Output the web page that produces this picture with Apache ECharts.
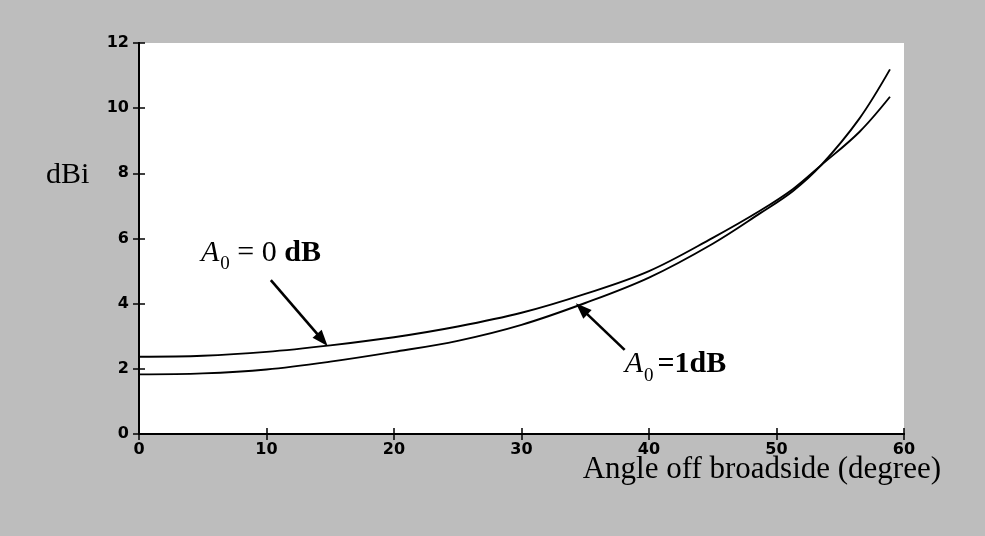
<!DOCTYPE html>
<html><head><meta charset="utf-8">
<script src="https://cdn.jsdelivr.net/npm/echarts@6/dist/echarts.min.js"></script>
<style>html,body{margin:0;padding:0;background:#bdbdbd}#c{width:985px;height:536px}</style>
</head><body><div id="c"></div>
<script>
// Angle off broadside (degree)
const angles      = [0, 5, 10, 15, 20, 25, 30, 35, 40, 45, 48.7, 51.3, 53.5, 56.5, 58.9];
// Gain (dBi) for A0 = 0 dB
const gainA0_0dB  = [2.37, 2.40, 2.52, 2.72, 2.97, 3.30, 3.72, 4.30, 5.00, 6.02, 6.85, 7.52, 8.25, 9.27, 10.35];
// Gain (dBi) for A0 = 1 dB
const gainA0_1dB  = [1.83, 1.86, 1.98, 2.22, 2.52, 2.86, 3.35, 4.02, 4.80, 5.84, 6.77, 7.46, 8.25, 9.68, 11.19];
// axis ranges / ticks
const xRange = [0, 60, 10];
const yRange = [0, 12, 2];
// annotation anchors in data coordinates
const arrow0dB = [[10.34, 4.72], [14.38, 2.89]];
const arrow1dB = [[38.09, 2.58], [34.72, 3.84]];
const label0dBAt = [4.86, 6.02];
const label1dBAt = [38.09, 2.60];

const pairs = (xs, ys) => xs.map((x, i) => [x, ys[i]]);
const chart = echarts.init(document.getElementById('c'), null, {renderer: 'canvas'});
const labelFont = {color: '#000', fontFamily: 'DejaVu Sans', fontWeight: 'bold', fontSize: 16};
const axisBase = {
  type: 'value', splitLine: {show: false},
  axisLine: {show: true, lineStyle: {color: '#000', width: 2}},
  axisTick: {show: true, inside: true, length: 6, lineStyle: {color: '#000', width: 1.5}}
};
const serif = 'Liberation Serif';
chart.setOption({
  backgroundColor: '#bdbdbd',
  animation: false,
  title: [
    {text: 'dBi', left: 41, top: 155, textStyle: {fontFamily: serif, fontSize: 30, fontWeight: 'normal', color: '#000'}},
    {text: 'Angle off broadside (degree)', right: 39, top: 449, textStyle: {fontFamily: serif, fontSize: 31, fontWeight: 'normal', color: '#000'}}
  ],
  grid: {left: 139, right: 81, top: 43, bottom: 102, show: true, backgroundColor: '#fff', borderWidth: 0},
  xAxis: [
    Object.assign({}, axisBase, {min: xRange[0], max: xRange[1], interval: xRange[2], position: 'bottom',
      axisLabel: Object.assign({margin: 8}, labelFont)}),
    Object.assign({}, axisBase, {min: xRange[0], max: xRange[1], interval: xRange[2], position: 'top',
      axisLabel: {show: false}})
  ],
  yAxis: [
    Object.assign({}, axisBase, {min: yRange[0], max: yRange[1], interval: yRange[2], position: 'left',
      axisLabel: Object.assign({margin: 10}, labelFont)}),
    Object.assign({}, axisBase, {min: yRange[0], max: yRange[1], interval: yRange[2], position: 'right',
      axisLabel: {show: false}})
  ],
  series: [
    {type: 'line', name: 'A0 = 0 dB', data: pairs(angles, gainA0_0dB), smooth: 0.35, showSymbol: false,
      lineStyle: {color: '#000', width: 1.9},
      markLine: {silent: true, symbol: ['none', 'triangle'], symbolSize: [12, 16], animation: false,
        lineStyle: {color: '#000', width: 2.6, type: 'solid'}, label: {show: false},
        data: [[{coord: arrow0dB[0]}, {coord: arrow0dB[1]}], [{coord: arrow1dB[0]}, {coord: arrow1dB[1]}]]}},
    {type: 'line', name: 'A0 = 1 dB', data: pairs(angles, gainA0_1dB), smooth: 0.35, showSymbol: false,
      lineStyle: {color: '#000', width: 1.9}}
  ]
});
const rich = {
  a: {fontFamily: serif, fontStyle: 'italic', fontSize: 30, color: '#000', verticalAlign: 'bottom', padding: [0, 1, 6, 0]},
  s: {fontFamily: serif, fontSize: 19, color: '#000', verticalAlign: 'bottom', padding: [0, 0, 0, 0]},
  n: {fontFamily: serif, fontSize: 30, color: '#000', verticalAlign: 'bottom', padding: [0, 0, 6, 0]},
  b: {fontFamily: serif, fontSize: 30, fontWeight: 'bold', color: '#000', verticalAlign: 'bottom', padding: [0, 0, 6, 0]},
  b2: {fontFamily: serif, fontSize: 30, fontWeight: 'bold', color: '#000', verticalAlign: 'bottom', padding: [0, 0, 6, 4]}
};
const p0 = chart.convertToPixel({gridIndex: 0}, label0dBAt);
const p1 = chart.convertToPixel({gridIndex: 0}, label1dBAt);
chart.setOption({
  graphic: [
    {type: 'text', x: p0[0], y: p0[1], style: {text: '{a|A}{s|0}{n| = 0 }{b|dB}', rich: rich, align: 'left', verticalAlign: 'top'}},
    {type: 'text', x: p1[0], y: p1[1], style: {text: '{a|A}{s|0}{b2|=1dB}', rich: rich, align: 'left', verticalAlign: 'top'}}
  ]
});
</script></body></html>
